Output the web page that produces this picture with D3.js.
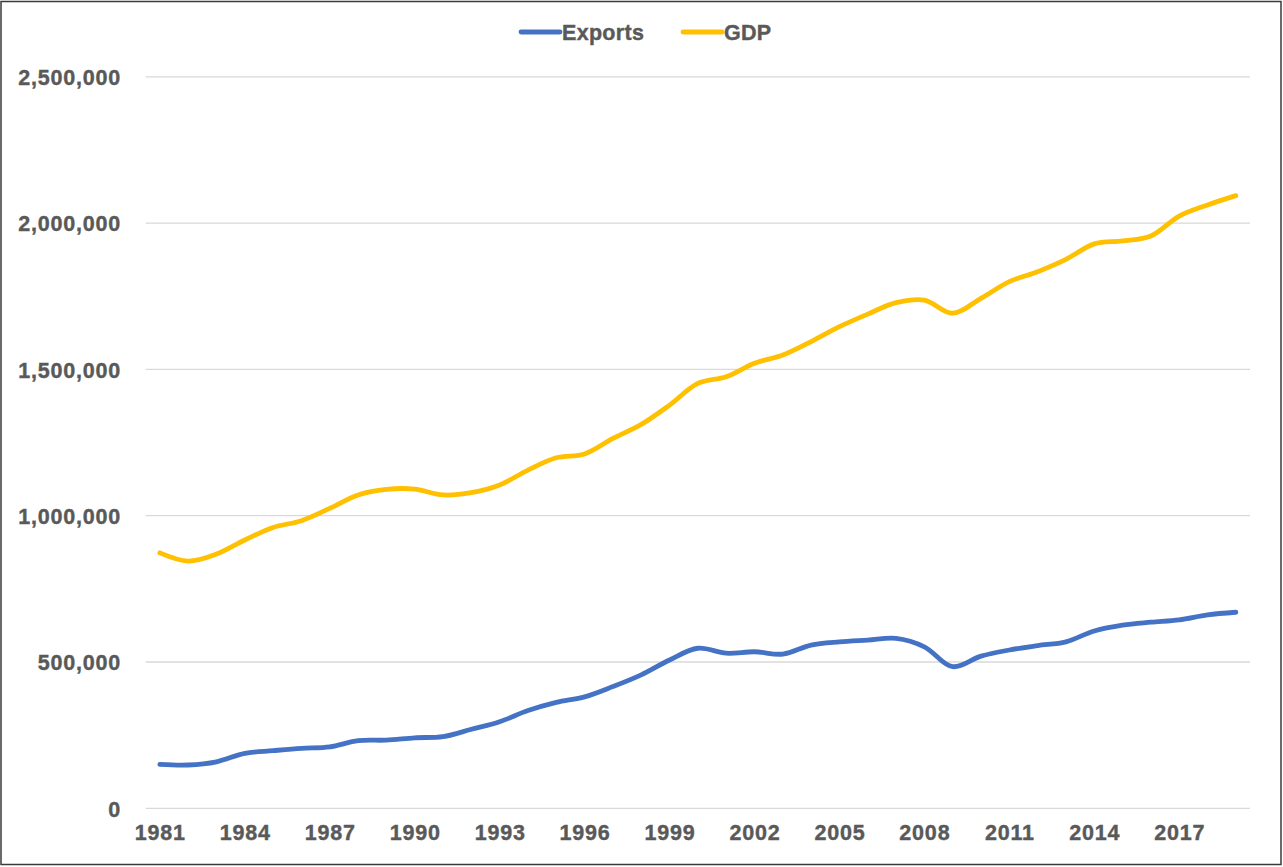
<!DOCTYPE html>
<html>
<head>
<meta charset="utf-8">
<script src="https://cdn.jsdelivr.net/npm/d3@7"></script>
<style>
    body { margin: 0; background: #fff; }
    svg text { font-family: "Liberation Sans", Arial, sans-serif; font-weight: bold; fill: #595959; }
</style>
</head>
<body>
<svg id="chart"></svg>
<script>
const years = d3.range(1981, 2020);

const exports = [
    150000, 148000, 159000, 188000, 197000, 205000, 210000, 231000, 233000, 241000,
    245000, 270000, 296000, 334000, 362000, 381000, 416000, 456000, 507000, 547000,
    530000, 535000, 527000, 558000, 569000, 575000, 581000, 552000, 484000, 520000,
    541000, 556000, 569000, 606000, 626000, 636000, 644000, 661000, 670000
];

const gdp = [
    873000, 845000, 869000, 917000, 960000, 983000, 1025000, 1071000, 1090000, 1091000,
    1071000, 1079000, 1105000, 1156000, 1198000, 1211000, 1264000, 1312000, 1378000, 1452000,
    1475000, 1521000, 1549000, 1595000, 1646000, 1689000, 1728000, 1737000, 1692000, 1743000,
    1800000, 1834000, 1876000, 1929000, 1939000, 1956000, 2024000, 2062000, 2094000
];

const seriesNames = ['Exports', 'GDP'];
const seriesColors = ['#4472C4', '#FFC000'];
const yTicks = [0, 500000, 1000000, 1500000, 2000000, 2500000];

const width = 1283, height = 867;
const svg = d3.select('#chart').attr('width', width).attr('height', height);

// frame
svg.append('rect')
    .attr('x', 1).attr('y', 1.5)
    .attr('width', width - 3).attr('height', height - 4)
    .attr('fill', 'none')
    .attr('stroke', '#3a3a3a')
    .attr('stroke-width', 1.5);

const x = d3.scalePoint().domain(years).range([145.7, 1250]).padding(0.5);
const y = d3.scaleLinear().domain([0, 2500000]).range([808.3, 76.8]);

// gridlines
svg.append('g')
    .selectAll('line')
    .data(yTicks)
    .enter()
    .append('line')
    .attr('x1', 145.7).attr('x2', 1250)
    .attr('y1', d => y(d)).attr('y2', d => y(d))
    .attr('stroke', '#d9d9d9')
    .attr('stroke-width', 1.3);

// y axis labels
const yAxis = svg.append('g')
    .attr('transform', 'translate(121,0)')
    .call(d3.axisLeft(y).tickValues(yTicks).tickSize(0).tickPadding(0).tickFormat(d3.format(',')));
yAxis.select('.domain').remove();
yAxis.selectAll('text')
    .attr('font-size', '21.5px')
    .style('letter-spacing', '0.8px')
    .style('stroke', '#595959')
    .style('stroke-width', '0.4px')
    .attr('dy', '0.36em');

// x axis labels
const xAxis = svg.append('g')
    .attr('transform', 'translate(0,825)')
    .call(d3.axisBottom(x).tickValues(years.filter((d, i) => i % 3 === 0)).tickSize(0).tickPadding(0));
xAxis.select('.domain').remove();
xAxis.selectAll('text')
    .attr('font-size', '21.5px')
    .style('letter-spacing', '0.8px')
    .style('stroke', '#595959')
    .style('stroke-width', '0.4px')
    .attr('dy', '0.71em');

// lines
const line = d3.line()
    .x((d, i) => x(years[i]))
    .y(d => y(d))
    .curve(d3.curveCatmullRom.alpha(0.5));

[exports, gdp].forEach((values, i) => {
    svg.append('path')
        .datum(values)
        .attr('d', line)
        .attr('fill', 'none')
        .attr('stroke', seriesColors[i])
        .attr('stroke-width', 4.8)
        .attr('stroke-linecap', 'round')
        .attr('stroke-linejoin', 'round');
});

// legend
const legendX = [521, 683];
const legend = svg.append('g');
seriesNames.forEach((name, i) => {
    legend.append('line')
        .attr('x1', legendX[i]).attr('x2', legendX[i] + 39)
        .attr('y1', 32).attr('y2', 32)
        .attr('stroke', seriesColors[i])
        .attr('stroke-width', 4.8)
        .attr('stroke-linecap', 'round');
    legend.append('text')
        .attr('x', legendX[i] + 41)
        .attr('y', 32)
        .attr('dy', '0.36em')
        .attr('font-size', '21.5px')
        .style('letter-spacing', '0.3px')
        .style('stroke', '#595959')
        .style('stroke-width', '0.4px')
        .text(name);
});
</script>
</body>
</html>
